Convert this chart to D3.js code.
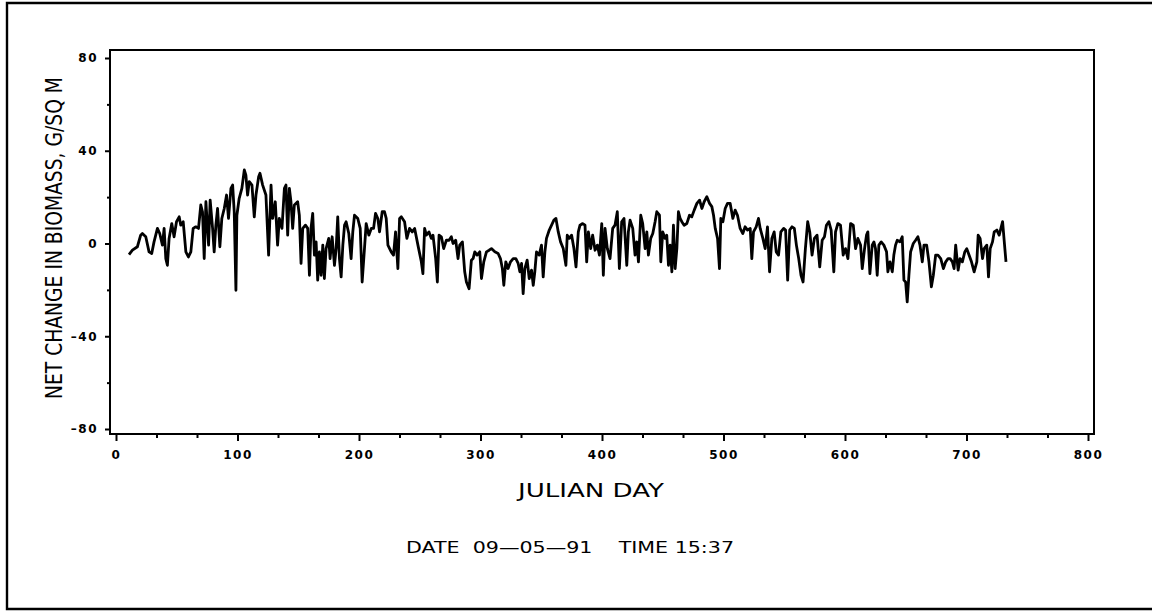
<!DOCTYPE html>
<html>
<head>
<meta charset="utf-8">
<script src="https://cdn.jsdelivr.net/npm/d3@7"></script>
<style>
  html, body { margin: 0; padding: 0; background: #fff; }
  svg { display: block; }
</style>
</head>
<body>
<script>
// [julian day, net change g/sq m]
var days10to141 = [[10.7,-4.8],[13.5,-2.9],[17.6,-1.4],[20.3,3.6],[21.7,4.3],[24.5,2.9],[27.2,-3.6],[29.4,-4.3],[31.3,0.7],[34.1,6.5],[36,4.3],[38.2,-0.7],[39.6,6.5],[41,-6.5],[42.3,-9.4],[43.7,2.2],[45.9,8.6],[47.8,2.9],[49.8,9.4],[52,11.5],[53.3,7.9],[55.3,9.4],[57.5,-3.6],[59.6,-5.8],[61.6,-3.6],[63.5,6.5],[65.7,7.2],[67.9,6.5],[69.8,16.6],[71.2,13.7],[72.6,-6.5],[74,18],[76.2,-0.7],[77.5,18.7],[79.5,6.5],[80.8,-3.6],[82.2,7.9],[83.6,15.1],[85.5,-1.4],[87.1,10.8],[89.1,15.1],[91,20.9],[92.6,10.8],[94.6,23.8],[96,25.2],[97.3,13.7],[98.7,-20.2],[99.5,12.2],[101.4,19.5],[103.6,23.8],[105.6,31.7],[106.9,29.5],[108.3,20.9],[109.7,26.7],[111.9,25.2],[113.8,11.5],[115.2,20.9],[117.4,28.8],[118.5,30.3],[120.7,25.2],[123.4,20.9],[125.6,-5],[127.6,25.2],[128.9,10.8],[131.1,18],[133,-0.7],[134.4,10.8],[136.6,6.5],[138.6,23.8],[139.9,25.2],[141.3,3.6]];

var days142to297 = [[142.7,23.8],[144,18],[145.4,6.5],[146.8,16.6],[149.5,18],[150.9,12.2],[152.3,-8.6],[153.7,6.5],[155.9,7.9],[157.8,6.5],[159.2,-13.7],[160.5,6.5],[161.9,13],[163.3,-5],[164.7,0.7],[166,-15.8],[167.4,-3.6],[168.8,-13.7],[170.2,-0.7],[171.5,-15.1],[172.9,-2.2],[175.1,2.2],[176.2,-6.5],[177.9,2.9],[179.8,-9.4],[181.2,-2.2],[182.5,11.5],[183.9,-6.5],[185.3,-14.4],[186.7,-0.7],[188.1,7.9],[189.4,9.4],[191.6,4.3],[193.5,-6.5],[194.9,5],[196.3,12.2],[199,10.8],[201,6.5],[202.6,-16.6],[204.5,-2.2],[205.9,8.6],[208.1,3.6],[210.1,6.5],[212,6.5],[213.6,13],[215.5,10.8],[216.9,5],[219.1,13.7],[221,13.7],[222.4,10.8],[223.8,-0.7],[226.5,-3.6],[228.4,-5],[230.1,5],[232,-10.8],[233.4,10.8],[234.8,11.5],[237.5,9.4],[239.4,2.2],[241.6,6.5],[243.8,5],[245.8,6.5],[248.5,-0.7],[251.3,-7.9],[252.6,-13],[254,6.5],[255.4,3.6],[257.6,5],[259.5,2.2],[260.9,3.6],[263.1,-6.5],[264.5,-16.6],[265.9,3.6],[267.8,2.9],[269.7,-2.2],[271.9,1.4],[274.1,1.4],[276,2.9],[277.4,0],[279.6,1.4],[281.5,-6.5],[282.9,-0.7],[285.1,0.7],[287,-12.2],[288.4,-16.6],[290.6,-19.5],[292.5,-7.2],[293.9,-6.5],[295.3,-3.6],[297.2,-5]];

var days299to455 = [[299.4,-3.6],[300.8,-15.1],[302.7,-7.9],[304.9,-3.6],[307.1,-2.9],[309,-2.2],[311.8,-3.6],[314.5,-4.3],[316.4,-6.5],[318,-10.8],[319.2,-18],[320.8,-7.9],[322.7,-10.8],[324.7,-7.9],[326.9,-6.5],[329.1,-6.5],[331,-8.6],[332.4,-12.2],[333.8,-8.6],[335.1,-21.6],[336.5,-10.8],[338.4,-7.2],[340.1,-15.1],[342,-11.5],[343.4,-18],[344.7,-12.2],[346.1,-3.6],[348.3,-5],[350.2,-0.7],[351.6,-14.4],[353,-3.6],[354.3,2.2],[356.6,5.8],[358.5,7.9],[360.4,10.1],[362.1,10.8],[364,5],[365.9,0.7],[368.1,-2.2],[370.3,-9.4],[371.4,3.6],[373.1,2.2],[375,3.6],[376.9,-2.2],[378.6,-10.1],[380.5,5],[381.9,7.9],[384.1,8.6],[386,7.9],[387.4,-7.9],[388.8,5],[390.7,-2.2],[392.3,3.6],[394.3,-2.9],[396.2,-0.7],[397.9,-5],[399.8,8.6],[401.1,-13.7],[402.5,6.5],[404.4,-2.2],[406.6,-6.5],[408.8,6.5],[410.7,7.9],[412.6,13.7],[414.3,-10.8],[416.2,9.4],[418.1,10.8],[420.4,-9.4],[421.7,5],[423.1,10.1],[425.3,6.5],[427.2,-5],[428.6,0.7],[430,-7.9],[431.9,12.2],[433.5,8.6],[435.5,-2.2],[436.9,5],[438.2,-5],[440.1,2.2],[441.8,4.3],[443.7,9.4],[445.1,13.7],[447.3,12.2],[448.4,-7.9],[450,5],[452,2.2],[453.3,3.6],[454.7,-9.4]];

var days456to611 = [[456.1,-0.7],[457.5,-12.2],[458.8,7.9],[460.2,-10.8],[461.6,-2.2],[462.9,13.7],[464.3,10.8],[465.7,9.4],[467.6,7.9],[469.8,8.6],[472,12.2],[473.9,11.5],[475.9,14.4],[478.1,17.3],[480.3,18.7],[482.2,15.1],[484.1,18],[486.3,20.2],[488.5,17.3],[490.4,15.9],[491.8,12.2],[493.2,6.5],[495.1,2.2],[496.7,-10.8],[497.8,10.8],[499.5,9.4],[501.4,15.1],[503.3,17.3],[505.5,17.3],[507.7,10.8],[509.6,14.4],[511.5,12.2],[513.7,6.5],[515.9,4.3],[517.8,7.2],[519.8,5.8],[522,6.5],[523.3,-6.5],[524.7,5],[526.9,7.2],[528.8,10.8],[530.2,6.5],[532.4,2.2],[534.3,-2.2],[536.2,7.2],[537.9,-12.2],[539.8,2.2],[541.7,5],[543.4,-3.6],[545.3,-5],[547.2,5],[549.5,6.5],[551.1,5.8],[552.8,-15.8],[554.5,5.8],[556.4,7.2],[558.3,6.5],[560,-0.7],[561.9,-6.5],[563.8,-13.7],[565.5,-16.6],[567.4,-2.2],[569.3,9.4],[571,5],[572.9,-5],[574.8,2.2],[577,3.6],[579.2,-10.1],[581.2,1.4],[583.1,2.9],[584.7,7.9],[586.7,9.4],[588.6,5.8],[590.8,-12.2],[592.2,5],[594.1,8.6],[596.3,7.9],[598.5,-5],[600.4,-2.2],[602.4,-6.5],[604.6,8.6],[606.8,7.9],[608.7,-2.2],[610.6,2.2]];

var days612to733 = [[612.8,-0.7],[614.2,-10.8],[616.1,-2.2],[617.7,3.6],[618.8,5],[620.5,-13],[622.4,-0.7],[623.8,0.7],[625.1,-2.2],[626.5,-13.7],[627.9,-0.7],[629.8,0.7],[632,-0.7],[634.2,-3.6],[635.3,-12.2],[637,-7.9],[638.9,-12.2],[640.2,-5],[641.6,-0.7],[643,1.4],[645.2,0.7],[647.1,2.9],[648.5,-15.8],[649.9,-16.6],[651.2,-25.2],[652.6,-13.7],[654,-3.6],[656.2,0],[658.1,1.4],[660,2.9],[661.7,-0.7],[663.6,-7.9],[665,-0.7],[667.2,-0.7],[669.1,-7.9],[671.1,-18.7],[672.7,-13.7],[674.6,-5],[676.5,-5],[678.8,-6.5],[681,-10.8],[682.9,-7.9],[684.8,-6.5],[686.5,-6.5],[688.4,-7.9],[689.8,-10.8],[691.1,-0.7],[693.1,-11.5],[694.7,-6.5],[696.6,-7.9],[698.6,-3.6],[700.2,-2.2],[702.1,-5],[704.1,-7.9],[706.3,-12.2],[708.5,-7.9],[709.6,3.6],[711.2,2.2],[713.2,-6.5],[714.5,-2.2],[716.7,-0.7],[718.1,-14.4],[719.5,-2.2],[721.4,0.7],[722.8,5],[725,5.8],[726.9,3.6],[728.3,6.5],[729.7,9.4],[731.1,0.7],[732.5,-7.9]];

var xTicks = [0, 100, 200, 300, 400, 500, 600, 700, 800];
var yTicks = [-80, -40, 0, 40, 80];
var yLabel = "NET CHANGE IN BIOMASS, G/SQ M";
var xLabel = "JULIAN DAY";
var stamp = "DATE  09\u201405\u201491    TIME 15:37";

var W = 1152, H = 611;
var frame = {left: 110, right: 1094, top: 50, bottom: 434};

var svg = d3.select("body").append("svg")
  .attr("width", W).attr("height", H);

// page border (top, left, bottom only)
svg.append("path")
  .attr("d", "M" + W + ",3 H7 V609 H" + W)
  .attr("fill", "none").attr("stroke", "#000").attr("stroke-width", 2.4);

var xScale = d3.scaleLinear().domain([0, 800]).range([116, 1088]);
var yScale = d3.scaleLinear().domain([-80, 80]).range([429, 58]);

// plot frame
svg.append("rect")
  .attr("x", frame.left).attr("y", frame.top)
  .attr("width", frame.right - frame.left).attr("height", frame.bottom - frame.top)
  .attr("fill", "none").attr("stroke", "#000").attr("stroke-width", 2);

// x axis, minor ticks every third of 100
var xMinor = d3.range(0, 800, 100 / 3).filter(function(d) { return Math.abs(d % 100) > 1 && Math.abs(d % 100) < 99; });
svg.append("g").attr("class", "ax")
  .attr("transform", "translate(0," + frame.bottom + ")")
  .call(d3.axisBottom(xScale).tickValues(xMinor).tickSize(4).tickFormat(""));
svg.append("g").attr("class", "ax xmaj")
  .attr("transform", "translate(0," + frame.bottom + ")")
  .call(d3.axisBottom(xScale).tickValues(xTicks).tickSize(7).tickPadding(9));

// y axis
svg.append("g").attr("class", "ax")
  .attr("transform", "translate(" + frame.left + ",0)")
  .call(d3.axisLeft(yScale).tickValues([-60, -20, 20, 60]).tickSize(3).tickFormat(""));
svg.append("g").attr("class", "ax ymaj")
  .attr("transform", "translate(" + frame.left + ",0)")
  .call(d3.axisLeft(yScale).tickValues(yTicks).tickSize(5).tickPadding(7)
    .tickFormat(function(d) { return d < 0 ? "\u2013" + Math.abs(d) : d; }));

svg.selectAll(".ax .domain").remove();
svg.selectAll(".ax line").attr("stroke", "#000").attr("stroke-width", 2);
svg.selectAll(".ax text")
  .attr("fill", "#000")
  .style("font-family", "'DejaVu Sans', sans-serif")
  .style("font-weight", "bold")
  .style("font-size", "12px")
  .style("letter-spacing", "1.5px");

// the series
var series = [].concat(days10to141, days142to297, days299to455, days456to611, days612to733);
var line = d3.line()
  .x(function(d) { return xScale(d[0]); })
  .y(function(d) { return yScale(d[1]); });
svg.append("path")
  .datum(series)
  .attr("d", line)
  .attr("fill", "none")
  .attr("stroke", "#000")
  .attr("stroke-width", 2.8)
  .attr("stroke-linejoin", "round");

// labels
svg.append("text")
  .attr("transform", "translate(62,238) rotate(-90)")
  .attr("text-anchor", "middle")
  .attr("textLength", 322).attr("lengthAdjust", "spacingAndGlyphs")
  .style("font-family", "'DejaVu Sans', sans-serif")
  .style("font-size", "23px")
  .text(yLabel);

svg.append("text")
  .attr("x", 591).attr("y", 497)
  .attr("text-anchor", "middle")
  .attr("textLength", 146).attr("lengthAdjust", "spacingAndGlyphs")
  .style("font-family", "'DejaVu Sans', sans-serif")
  .style("font-size", "20px")
  .text(xLabel);

svg.append("text")
  .attr("x", 570).attr("y", 553)
  .attr("text-anchor", "middle")
  .attr("textLength", 328).attr("lengthAdjust", "spacingAndGlyphs")
  .style("font-family", "'DejaVu Sans', sans-serif")
  .style("font-size", "16px")
  .style("white-space", "pre")
  .text(stamp);
</script>
</body>
</html>
